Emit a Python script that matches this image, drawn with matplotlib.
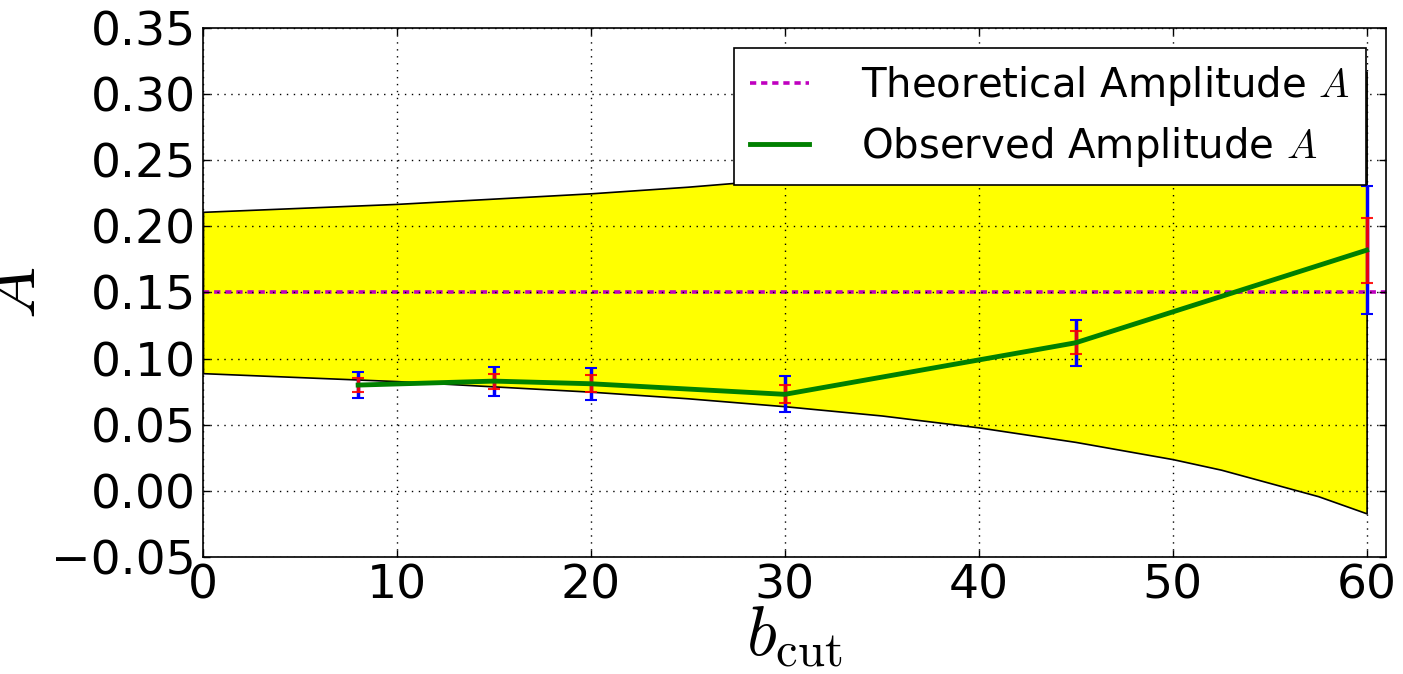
import matplotlib
matplotlib.use("Agg")
import matplotlib.pyplot as plt

# band
band_b = [0, 5, 10, 15, 20, 25, 30, 35, 40, 45, 50, 52.5, 55, 57.5, 60]
band_upper = [0.211, 0.214, 0.217, 0.221, 0.225, 0.230, 0.236, 0.243, 0.252, 0.263, 0.276, 0.284, 0.294, 0.304, 0.317]
band_lower = [0.089, 0.086, 0.083, 0.079, 0.075, 0.070, 0.064, 0.057, 0.048, 0.037, 0.024, 0.016, 0.006, -0.004, -0.017]

theory_A = 0.15

obs_b = [8, 15, 20, 30, 45, 60]
obs_A = [0.080, 0.083, 0.081, 0.073, 0.112, 0.182]
err_outer = [0.010, 0.011, 0.012, 0.0135, 0.0175, 0.0485]
err_inner = [0.005, 0.0057, 0.0064, 0.0068, 0.0088, 0.0246]

yticks = [-0.05, 0.00, 0.05, 0.10, 0.15, 0.20, 0.25, 0.30, 0.35]
xticks = [0, 10, 20, 30, 40, 50, 60]

plt.rcParams['mathtext.fontset'] = 'cm'
plt.rcParams['font.family'] = ['DejaVu Sans']
plt.rcParams['lines.scale_dashes'] = False

fig = plt.figure(figsize=(14.03, 6.74), dpi=100)
ax = fig.add_axes([203/1403, 1 - 557/674, (1386-203)/1403, (557-28)/674])

ax.fill_between(band_b, band_lower, band_upper, facecolor='yellow',
                edgecolor='black', linewidth=1.2, zorder=1)
ax.axhline(theory_A, color='m', linestyle=(0, (4.5, 3.5)), linewidth=2.6,
           label=r'Theoretical Amplitude $A$', zorder=2)
ax.errorbar(obs_b, obs_A, yerr=err_outer, fmt='none', ecolor='blue',
            elinewidth=2.5, capsize=4, capthick=1.5, zorder=3)
ax.errorbar(obs_b, obs_A, yerr=err_inner, fmt='none', ecolor='red',
            elinewidth=2.5, capsize=4, capthick=1.5, alpha=0.9, zorder=4)
ax.plot(obs_b, obs_A, color='green', linewidth=3.5,
        label=r'Observed Amplitude $A$', zorder=5)

ax.set_xlim(0, 61)
ax.set_ylim(-0.05, 0.35)
ax.set_xticks(xticks)
ax.set_yticks(yticks)
ax.set_yticklabels(['\u22120.05'] + ['%.2f' % v for v in yticks[1:]])
ax.tick_params(direction='in', top=True, right=True, labelsize=34,
               length=5, width=1, pad=5)
ax.grid(True, color='black', linestyle=(0, (1, 4)), linewidth=1)
ax.set_axisbelow(False)
for s in ax.spines.values():
    s.set_linewidth(1.2)

ax.set_xlabel(r'$b_{\rm cut}$', fontsize=50, labelpad=-4)
ax.set_ylabel(r'$A$', fontsize=50, labelpad=2)

leg = ax.legend(loc='upper right', fontsize=29, handlelength=1.45,
                handletextpad=1.3, borderaxespad=0.5, labelspacing=0.42,
                borderpad=0.4,
                fancybox=False, framealpha=1, edgecolor='black')
leg.get_frame().set_linewidth(1.2)
leg.set_zorder(10)

fig.savefig('out.png', dpi=100)
